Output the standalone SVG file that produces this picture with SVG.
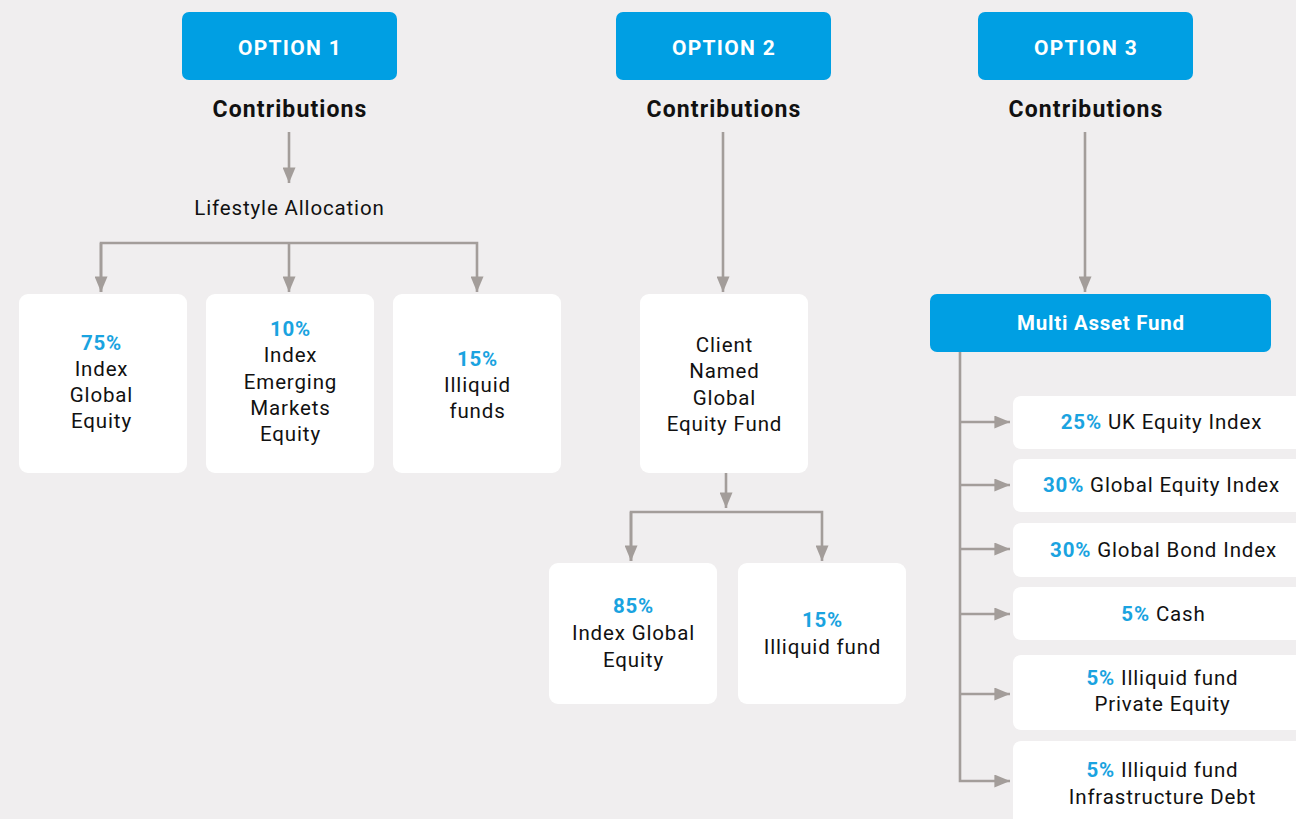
<svg xmlns="http://www.w3.org/2000/svg" width="1296" height="819" viewBox="0 0 1296 819">
<defs>
<marker id="ah" markerWidth="6" markerHeight="5" refX="6" refY="2.5" orient="auto" markerUnits="strokeWidth">
<path d="M0,0 L6,2.5 L0,5 Z" fill="#a39d9a"/>
</marker>
<style>
.bg{fill:#f0eeef}
.blue{fill:#009fe3}
.card{fill:#ffffff}
.hd{font-family:Roboto,"Liberation Sans",sans-serif;font-weight:bold;font-size:21px;letter-spacing:1.3px;fill:#ffffff;text-anchor:middle}
.mf{font-size:20.5px;letter-spacing:0.75px}
.ct{font-family:Roboto,"Liberation Sans",sans-serif;font-weight:bold;font-size:23px;letter-spacing:1.1px;fill:#111111;text-anchor:middle}
.t{font-family:Roboto,"Liberation Sans",sans-serif;font-size:20.5px;letter-spacing:0.85px;fill:#111111;text-anchor:middle}
.p{fill:#1aa3e0;font-weight:bold}
.c{fill:none;stroke:#a39d9a;stroke-width:2.6}
</style>
</defs>
<rect class="bg" x="0" y="0" width="1296" height="819"/>

<g id="connectors">
<path class="c" d="M289,132 V183" marker-end="url(#ah)"/>
<path class="c" d="M289,243 V292" marker-end="url(#ah)"/>
<path class="c" d="M101,292 V243 H477 V292" marker-end="url(#ah)"/>
<path class="c" d="M101,243 V292" marker-end="url(#ah)"/>
<path class="c" d="M723,132 V292" marker-end="url(#ah)"/>
<path class="c" d="M726,473 V508" marker-end="url(#ah)"/>
<path class="c" d="M631,561 V512 H822 V561" marker-end="url(#ah)"/>
<path class="c" d="M631,512 V561" marker-end="url(#ah)"/>
<path class="c" d="M1085,132 V292" marker-end="url(#ah)"/>
<path class="c" d="M960,352 V781 H1010" marker-end="url(#ah)"/>
<path class="c" d="M960,422 H1010" marker-end="url(#ah)"/>
<path class="c" d="M960,485 H1010" marker-end="url(#ah)"/>
<path class="c" d="M960,549 H1010" marker-end="url(#ah)"/>
<path class="c" d="M960,614 H1010" marker-end="url(#ah)"/>
<path class="c" d="M960,694 H1010" marker-end="url(#ah)"/>
</g>

<g id="option1">
<rect class="blue" x="182" y="12" width="215" height="68" rx="7"/>
<text class="hd" x="290" y="55">OPTION 1</text>
</g>
<g id="option2">
<rect class="blue" x="616" y="12" width="215" height="68" rx="7"/>
<text class="hd" x="724" y="55">OPTION 2</text>
</g>
<g id="option3">
<rect class="blue" x="978" y="12" width="215" height="68" rx="7"/>
<text class="hd" x="1086" y="55">OPTION 3</text>
</g>

<g id="contrib1"><text class="ct" x="290" y="117">Contributions</text></g>
<g id="contrib2"><text class="ct" x="724" y="117">Contributions</text></g>
<g id="contrib3"><text class="ct" x="1086" y="117">Contributions</text></g>

<g id="lifestyle"><text class="t" x="289.5" y="215">Lifestyle Allocation</text></g>

<g id="o1a">
<rect class="card" x="19" y="294" width="168" height="179" rx="9"/>
<text class="t" x="101.5" y="350"><tspan class="p">75%</tspan><tspan x="101.5" dy="26">Index</tspan><tspan x="101.5" dy="26">Global</tspan><tspan x="101.5" dy="26">Equity</tspan></text>
</g>
<g id="o1b">
<rect class="card" x="206" y="294" width="168" height="179" rx="9"/>
<text class="t" x="290.5" y="336"><tspan class="p">10%</tspan><tspan x="290.5" dy="26.3">Index</tspan><tspan x="290.5" dy="26.3">Emerging</tspan><tspan x="290.5" dy="26.3">Markets</tspan><tspan x="290.5" dy="26.3">Equity</tspan></text>
</g>
<g id="o1c">
<rect class="card" x="393" y="294" width="168" height="179" rx="9"/>
<text class="t" x="477.5" y="366"><tspan class="p">15%</tspan><tspan x="477.5" dy="26">Illiquid</tspan><tspan x="477.5" dy="26">funds</tspan></text>
</g>

<g id="o2fund">
<rect class="card" x="640" y="294" width="168" height="179" rx="9"/>
<text class="t" x="724.5" y="352"><tspan>Client</tspan><tspan x="724.5" dy="26.3">Named</tspan><tspan x="724.5" dy="26.3">Global</tspan><tspan x="724.5" dy="26.3">Equity Fund</tspan></text>
</g>
<g id="o2a">
<rect class="card" x="549" y="563" width="168" height="141" rx="9"/>
<text class="t" x="633.5" y="613"><tspan class="p">85%</tspan><tspan x="633.5" dy="27">Index Global</tspan><tspan x="633.5" dy="27">Equity</tspan></text>
</g>
<g id="o2b">
<rect class="card" x="738" y="563" width="168" height="141" rx="9"/>
<text class="t" x="822.5" y="627"><tspan class="p">15%</tspan><tspan x="822.5" dy="27">Illiquid fund</tspan></text>
</g>

<g id="multi">
<rect class="blue" x="930" y="294" width="341" height="58" rx="7"/>
<text class="hd mf" x="1101" y="330">Multi Asset Fund</text>
</g>

<g id="m1">
<rect class="card" x="1013" y="396" width="300" height="53" rx="8"/>
<text class="t" x="1161.5" y="429"><tspan class="p">25%</tspan> UK Equity Index</text>
</g>
<g id="m2">
<rect class="card" x="1013" y="459" width="300" height="53" rx="8"/>
<text class="t" x="1161.5" y="492"><tspan class="p">30%</tspan> Global Equity Index</text>
</g>
<g id="m3">
<rect class="card" x="1013" y="523" width="300" height="54" rx="8"/>
<text class="t" x="1163.5" y="557"><tspan class="p">30%</tspan> Global Bond Index</text>
</g>
<g id="m4">
<rect class="card" x="1013" y="587" width="300" height="53" rx="8"/>
<text class="t" x="1163.5" y="621"><tspan class="p">5%</tspan> Cash</text>
</g>
<g id="m5">
<rect class="card" x="1013" y="655" width="300" height="75" rx="8"/>
<text class="t" x="1162.5" y="685"><tspan class="p">5%</tspan> Illiquid fund<tspan x="1162.5" dy="26">Private Equity</tspan></text>
</g>
<g id="m6">
<rect class="card" x="1013" y="741" width="300" height="100" rx="8"/>
<text class="t" x="1162.5" y="777"><tspan class="p">5%</tspan> Illiquid fund<tspan x="1162.5" dy="27">Infrastructure Debt</tspan></text>
</g>
</svg>
